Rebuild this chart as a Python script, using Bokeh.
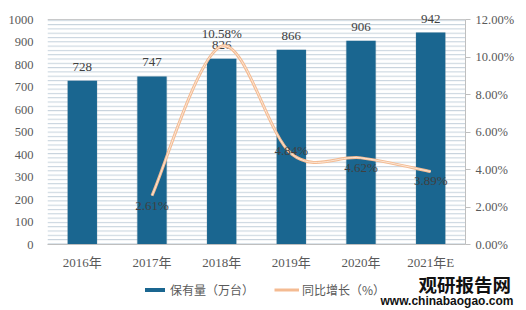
import numpy as np
from bokeh.plotting import figure
from bokeh.models import (Range1d, LinearAxis, FixedTicker, BoxAnnotation, Legend, LegendItem,
                          Label, ColumnDataSource)
from bokeh.core.properties import value
from bokeh.embed import file_html
from bokeh.resources import INLINE

# ---- data ----
years = ["2016年", "2017年", "2018年", "2019年", "2020年", "2021年E"]
stock = [728, 747, 826, 866, 906, 942]          # 保有量（万台）
growth_years = ["2017年", "2018年", "2019年", "2020年", "2021年E"]
growth = [2.61, 10.58, 4.84, 4.62, 3.89]        # 同比增长（%）
growth_labels = ["2.61%", "10.58%", "4.84%", "4.62%", "3.89%"]
left_ticks = [0, 100, 200, 300, 400, 500, 600, 700, 800, 900, 1000]
right_ticks = [0, 2, 4, 6, 8, 10, 12]
right_tick_labels = ["0.00%", "2.00%", "4.00%", "6.00%", "8.00%", "10.00%", "12.00%"]
left_max, right_max = 1000, 12

FONT = "'Liberation Serif', 'Noto Sans CJK SC', serif"
BAR = "#1a6690"
LINE = "#f4bb92"
AX = "#595959"
LBL = "#404040"

head = 239 / 225
p = figure(width=526, height=272, output_backend="svg", toolbar_location=None,
           x_range=Range1d(-0.5, 5.5), y_range=Range1d(0, left_max * head),
           min_border_left=47, min_border_right=61, min_border_top=5, min_border_bottom=28)
p.extra_y_ranges = {"pct": Range1d(0, right_max * head)}
p.outline_line_color = None
p.background_fill_color = "white"
p.border_fill_color = "white"

p.add_layout(BoxAnnotation(top=left_max, fill_alpha=0, line_alpha=0, hatch_pattern="horizontal_line",
                           hatch_color="#c3d0db", hatch_scale=4.3, hatch_weight=1, level="underlay"))

xi = list(range(len(years)))
src = ColumnDataSource(dict(x=xi, top=stock, lab=[str(v) for v in stock]))

p.vbar(x="x", top="top", width=0.44, source=src, fill_color="#9aa8b4", fill_alpha=0.35,
       line_color=None, bottom=0)
p.vbar(x="x", top="top", width=0.42, source=src, fill_color=BAR, line_color=None)
p.text(x="x", y="top", text="lab", source=src, text_align="center", text_baseline="middle",
       y_offset=-14, text_font=value(FONT), text_font_size="13px", text_color=LBL)

gx = np.array([years.index(y) for y in growth_years], dtype=float)
gy = np.array(growth, dtype=float)
n = len(gx)
x0, y0, x1, y1, cx0, cy0, cx1, cy1 = [], [], [], [], [], [], [], []
for i in range(n - 1):
    pm = i - 1 if i > 0 else i
    pp = i + 2 if i + 2 < n else i + 1
    x0.append(gx[i]); y0.append(gy[i]); x1.append(gx[i + 1]); y1.append(gy[i + 1])
    cx0.append(gx[i] + (gx[i + 1] - gx[pm]) / 6); cy0.append(gy[i] + (gy[i + 1] - gy[pm]) / 6)
    cx1.append(gx[i + 1] - (gx[pp] - gx[i]) / 6); cy1.append(gy[i + 1] - (gy[pp] - gy[i]) / 6)
p.bezier(x0=x0, y0=y0, x1=x1, y1=y1, cx0=cx0, cy0=cy0, cx1=cx1, cy1=cy1,
         line_color=LINE, line_width=3, y_range_name="pct")
p.bezier(x0=x0, y0=y0, x1=x1, y1=y1, cx0=cx0, cy0=cy0, cx1=cx1, cy1=cy1,
         line_color="#fbe6d6", line_width=1, y_range_name="pct")

goff = [10, -13, -3, 10, 9]
gsrc = ColumnDataSource(dict(x=gx, y=gy, lab=growth_labels, off=goff))
p.text(x="x", y="y", text="lab", source=gsrc, y_range_name="pct", text_align="center",
       text_baseline="middle", y_offset="off", text_font=value(FONT), text_font_size="13px",
       text_color=LBL)

p.yaxis.ticker = FixedTicker(ticks=left_ticks)
p.yaxis.axis_line_color = None
p.yaxis.major_tick_line_color = None
p.yaxis.minor_tick_line_color = None
p.yaxis.major_label_standoff = 8
p.yaxis.major_label_text_font = FONT
p.yaxis.major_label_text_font_size = "12.5px"
p.yaxis.major_label_text_color = AX

ra = LinearAxis(y_range_name="pct", ticker=FixedTicker(ticks=right_ticks), bounds=(0, right_max),
                major_label_overrides={t: s for t, s in zip(right_ticks, right_tick_labels)})
ra.axis_line_color = "#bfbfbf"
ra.major_tick_line_color = "#bfbfbf"
ra.major_tick_out = 5
ra.major_tick_in = 0
ra.minor_tick_line_color = None
ra.major_label_standoff = 5
ra.major_label_text_font = FONT
ra.major_label_text_font_size = "12.5px"
ra.major_label_text_color = AX
p.add_layout(ra, "right")

p.xaxis.ticker = FixedTicker(ticks=xi)
p.xaxis.major_label_overrides = {i: y for i, y in enumerate(years)}
p.xaxis.axis_line_color = "#bfbfbf"
p.xaxis.major_tick_line_color = None
p.xaxis.minor_tick_line_color = None
p.xaxis.major_label_standoff = 4
p.xaxis.major_label_text_font = FONT
p.xaxis.major_label_text_font_size = "13px"
p.xaxis.major_label_text_color = AX

p.xgrid.grid_line_color = None
p.ygrid.ticker = FixedTicker(ticks=[left_max])
p.ygrid.grid_line_color = "#c8c8c8"

# ---- bottom strip: legend + source mark (separate root, full-width frame) ----
q = figure(width=526, height=38, output_backend="svg", toolbar_location=None,
           x_range=Range1d(-100, -99), y_range=Range1d(-100, -99),
           min_border_left=0, min_border_right=0, min_border_top=0, min_border_bottom=0)
q.axis.visible = False
q.grid.visible = False
q.outline_line_color = None
q.background_fill_color = "white"
q.border_fill_color = "white"
rb = q.vbar(x="x", top="top", width=0.42, source=src, fill_color=BAR, line_color=None)
rl = q.line(x="x", y="y", source=gsrc, line_color=LINE, line_width=3)

legend = Legend(items=[LegendItem(label="保有量（万台）", renderers=[rb]),
                       LegendItem(label="同比增长（%）", renderers=[rl])],
                orientation="horizontal", location=(142, 12),
                glyph_width=25, glyph_height=5, label_standoff=3, spacing=20,
                padding=3, margin=0, label_height=14,
                label_text_font="'Noto Sans CJK SC'", label_text_font_size="12px",
                label_text_color=AX,
                border_line_color=None, background_fill_color="white", background_fill_alpha=1)
q.add_layout(legend, "center")

q.add_layout(Label(x=418, y=14, x_units="screen", y_units="screen", text="观研报告网",
                   text_font="'Noto Sans CJK SC'", text_font_style="bold", text_font_size="18.5px",
                   text_color="#111111"))
q.add_layout(Label(x=380, y=3, x_units="screen", y_units="screen", text="www.chinabaogao.com",
                   text_font="'Liberation Sans'", text_font_style="bold", text_font_size="12px",
                   text_color="#111111"))

open("out.html", "w").write(file_html([p, q], INLINE))
